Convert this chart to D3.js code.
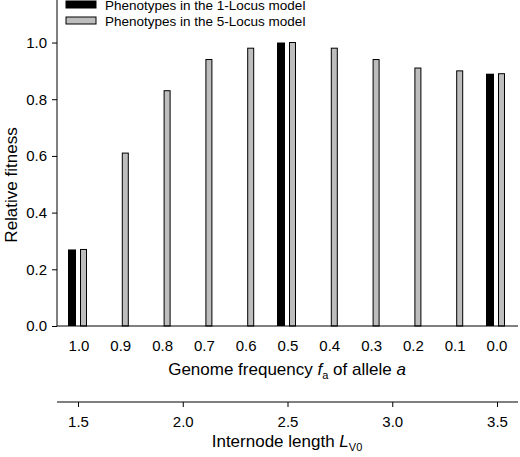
<!DOCTYPE html>
<html><head><meta charset="utf-8">
<script src="https://cdn.jsdelivr.net/npm/d3@7"></script>
<style>body{margin:0;background:#fff}text{font-family:"Liberation Sans",Arial,sans-serif;fill:#000}</style>
</head><body><div id="chart"></div>
<script>
// Data
const freqLabels = ["1.0","0.9","0.8","0.7","0.6","0.5","0.4","0.3","0.2","0.1","0.0"];
const fiveLocus = [0.27,0.61,0.83,0.94,0.98,1.0,0.98,0.94,0.91,0.90,0.89];
const oneLocus = [0.27,null,null,null,null,1.0,null,null,null,null,0.89];
const yTicks = [0,0.2,0.4,0.6,0.8,1.0];
const lengthTicks = [1.5,2.0,2.5,3.0,3.5];

const width = 520, height = 457;
const left = 57, right = 518, bottom = 326;

const svg = d3.select("#chart").append("svg")
    .attr("width", width).attr("height", height);

const x = d3.scalePoint().domain(freqLabels).range([79, 497]);
const y = d3.scaleLinear().domain([0, 1.15]).range([bottom, 0]);
const xLen = d3.scaleLinear().domain([1.5, 3.5]).range([78, 497]);

// bars
svg.selectAll(".one").data(oneLocus.map((v, i) => ({v, k: freqLabels[i]})).filter(d => d.v != null))
    .enter().append("rect")
    .attr("x", d => x(d.k) - 11).attr("width", 8)
    .attr("y", d => y(d.v)).attr("height", d => bottom - y(d.v))
    .attr("fill", "#000");
svg.selectAll(".five").data(fiveLocus.map((v, i) => ({v, k: freqLabels[i]})))
    .enter().append("rect")
    .attr("x", d => x(d.k) + 1.5).attr("width", 6)
    .attr("y", d => y(d.v)).attr("height", d => bottom - y(d.v))
    .attr("fill", "#bdbdbd").attr("stroke", "#000").attr("stroke-width", 1);

// y axis
const yAxis = svg.append("g").attr("transform", `translate(${left},0)`)
    .call(d3.axisLeft(y).tickValues(yTicks).tickFormat(d3.format(".1f")).tickSize(5).tickSizeOuter(0));
yAxis.select(".domain").attr("d", `M0,0V${bottom}`);
yAxis.selectAll("text").style("font-size", "15px").attr("dx", "-2");

// x axis (frequency)
svg.append("line").attr("x1", left).attr("x2", right).attr("y1", bottom).attr("y2", bottom).attr("stroke", "#000");
svg.selectAll(".fl").data(freqLabels).enter().append("text")
    .attr("x", d => x(d)).attr("y", 351).attr("text-anchor", "middle")
    .style("font-size", "15px").text(d => d);
const t1 = svg.append("text").attr("x", 287).attr("y", 375).attr("text-anchor", "middle").style("font-size", "17px");
t1.append("tspan").text("Genome frequency ");
t1.append("tspan").attr("font-style", "italic").text("f");
t1.append("tspan").attr("dy", 4).style("font-size", "11px").text("a");
t1.append("tspan").attr("dy", -4).text(" of allele ");
t1.append("tspan").attr("font-style", "italic").text("a");

// second axis (internode length)
const lenAxis = svg.append("g").attr("transform", "translate(0,402)")
    .call(d3.axisBottom(xLen).tickValues(lengthTicks).tickFormat(d3.format(".1f")).tickSize(5).tickSizeOuter(0));
lenAxis.select(".domain").attr("d", `M${left},0H${right}`);
lenAxis.selectAll("text").style("font-size", "15px").attr("dy", "1.1em");
const t2 = svg.append("text").attr("x", 287).attr("y", 447).attr("text-anchor", "middle").style("font-size", "17px");
t2.append("tspan").text("Internode length ");
t2.append("tspan").attr("font-style", "italic").text("L");
t2.append("tspan").attr("dy", 4).style("font-size", "11px").text("V0");

// y title
svg.append("text").attr("transform", "translate(17,185) rotate(-90)").attr("text-anchor", "middle")
    .style("font-size", "17px").text("Relative fitness");

// legend
const legend = [["Phenotypes in the 1-Locus model", "#000"], ["Phenotypes in the 5-Locus model", "#bdbdbd"]];
legend.forEach((d, i) => {
    svg.append("rect").attr("x", 66).attr("y", 1 + i * 16).attr("width", 30).attr("height", 7)
        .attr("fill", d[1]).attr("stroke", "#000");
    svg.append("text").attr("x", 105).attr("y", 10 + i * 16).style("font-size", "13.5px").text(d[0]);
});
</script></body></html>
